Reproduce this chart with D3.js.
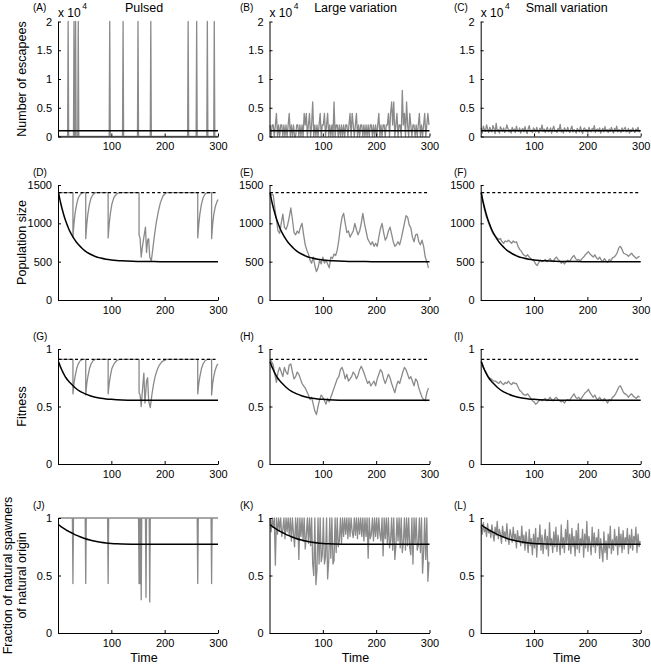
<!DOCTYPE html>
<html><head><meta charset="utf-8">
<script src="https://cdn.jsdelivr.net/npm/d3@7"></script>
<style>
body{margin:0;background:#fff}
text{font-family:"Liberation Sans",Arial,Helvetica,sans-serif;fill:#000}
</style>
</head><body>
<svg id="chart" width="651" height="666"></svg>
<script>
// ---------------- DATA ----------------
const columnTitles = ["Pulsed", "Large variation", "Small variation"];
const panelLetters = [["(A)","(B)","(C)"],["(D)","(E)","(F)"],["(G)","(H)","(I)"],["(J)","(K)","(L)"]];
const rowLabels = [["Number of escapees"],["Population size"],["Fitness"],["Fraction of natural spawners","of natural origin"]];
const xTicks = [100, 200, 300];
const escYTicks = [0, 5, 10, 15, 20];          // thousands of escapees
const escYTickLabels = ["0", "0.5", "1", "1.5", "2"]; // x 10^4
const popYTicks = [0, 500, 1000, 1500];
const fitYTicks = [0, 0.5, 1];
const fracYTicks = [0, 0.5, 1];

// Row 1: escapees (thousands)
const escapeeMean = 1;
const pulseTimes = [19, 30, 33, 38, 97, 122, 150, 174, 244, 260, 280, 293];
const pulseSize = 20;
const escLarge = [
 2,0,2,2,0,2,4,0,2,0, 2,2,0,2,0,2,0,2,4,0, 2,0,2,0,0,2,2,0,2,0,
 2,0,4,2,4,0,2,4,0,2, 6,0,2,0,2,0,2,4,0,2, 2,4,0,2,4,0,2,0,2,0,
 6,0,2,2,0,2,0,2,0,2, 0,2,2,0,2,4,0,4,2,0, 2,4,0,2,0,2,2,0,2,0,
 2,0,2,0,2,2,0,2,0,2, 0,2,4,0,2,0,2,2,0,2, 2,4,0,4,6,2,6,0,2,4,
 0,2,2,0,8,2,4,0,6,2, 0,4,2,0,2,2,0,2,0,2, 4,0,2,0,2,4,0,2,4,2];
const escSmall = [
 1.5,0.6,1.8,1.2,0.9,2.0,1.3,0.7,1.6,1.1, 0.8,1.9,1.4,0.5,2.3,1.0,1.2,0.6,1.7,1.3,
 0.9,1.5,0.7,1.1,2.0,1.4,0.8,1.2,0.6,1.6, 1.0,1.3,0.7,1.8,1.1,0.9,1.5,0.6,1.2,1.4,
 0.8,1.7,1.0,0.5,1.3,1.9,0.9,1.1,0.7,1.5, 1.2,0.8,1.6,1.0,0.6,1.4,1.1,2.0,0.9,1.3,
 0.7,1.2,1.6,0.8,1.0,1.5,0.6,1.3,1.8,0.9, 1.1,0.7,1.4,1.0,2.1,0.8,1.2,0.6,1.5,1.1,
 0.9,1.6,1.0,0.7,1.3,1.8,0.8,1.2,1.0,0.6, 1.4,1.1,0.8,1.7,1.0,0.5,1.3,1.5,0.9,1.2,
 0.7,1.6,1.1,0.8,1.4,1.0,1.9,0.7,1.2,1.3, 0.9,1.5,0.6,1.1,1.4,0.8,1.7,1.0,1.2,0.7,
 1.3,0.9,1.6,1.1,0.6,1.4,1.0,1.8,0.8,1.2, 1.1,0.7,1.5,0.9,1.3,1.6,0.8,1.0,1.4,0.6,
 1.2,0.9,1.5,1.1,0.7,1.3,1.0,1.6,0.8,1.1];

// Model (deterministic) curves
const modelTime = [1,3,5,8,10,13,15,18,20,25,30,35,40,45,50,60,70,80,90,100,110,120,140,160,180,200,250,300];
const modelPop  = [1400,1330,1265,1180,1130,1060,1020,965,930,860,800,750,710,675,645,600,568,548,533,523,516,511,505,502,501,500,500,500];
const modelFit  = [0.89,0.865,0.84,0.81,0.79,0.765,0.75,0.73,0.72,0.695,0.672,0.652,0.636,0.623,0.612,0.594,0.581,0.572,0.566,0.562,0.559,0.557,0.555,0.555,0.555,0.555,0.555,0.555];
const modelFrac = [0.94,0.935,0.928,0.918,0.912,0.903,0.897,0.889,0.884,0.872,0.86,0.849,0.839,0.83,0.822,0.808,0.797,0.789,0.783,0.779,0.776,0.774,0.772,0.771,0.771,0.771,0.771,0.771];
const popNoEscapes = 1400;
const fitNoEscapes = 0.91;

// Pulsed scenario: population and fitness (time, value)
const popPulsedTime = [1,28,28,30,32,35,38,42,46,52,52,54,56,59,62,66,70,94,94,96,98,101,105,110,115,
  152,152,154,156,158,161,164,166,168,170,172,175,178,181,184,188,192,197,203,
  262,262,264,266,269,272,276,280,288,288,290,292,295,298,300];
const popPulsed = [1400,1400,820,1000,1130,1250,1330,1380,1400,1400,800,990,1120,1250,1330,1380,1400,1400,810,990,1120,1250,1340,1385,1400,
  1400,850,800,560,680,820,950,620,780,800,560,510,680,850,1000,1150,1270,1360,1400,
  1400,810,990,1120,1250,1330,1385,1400,1400,800,990,1110,1220,1280,1310];
const fitPulsedTime = [1,28,28,30,32,35,38,42,46,52,52,54,56,59,62,66,70,94,94,96,98,101,105,110,115,
  152,152,154,156,159,161,163,166,168,170,173,176,179,182,186,190,195,203,
  262,262,264,266,269,272,276,280,288,288,290,292,295,298,300];
const fitPulsed = [0.91,0.91,0.61,0.70,0.76,0.83,0.87,0.90,0.91,0.91,0.60,0.70,0.76,0.83,0.87,0.90,0.91,0.91,0.61,0.70,0.76,0.83,0.87,0.90,0.91,
  0.91,0.62,0.60,0.50,0.68,0.79,0.53,0.72,0.75,0.55,0.49,0.60,0.69,0.76,0.82,0.86,0.89,0.91,
  0.91,0.61,0.70,0.76,0.83,0.87,0.90,0.91,0.91,0.60,0.70,0.76,0.82,0.86,0.87];
const fracPulseTimes = [28, 52, 94, 152, 154, 156, 165, 172, 262, 288];
const fracPulseLows  = [0.43,0.43,0.43,0.43,0.43,0.29,0.31,0.27,0.43,0.43];

// Variable scenarios, every 3rd year from year 1
const popLarge = [1350,1380,1370,1200,1050,900,870,1000,1120,950, 920,980,1080,1200,1050,880,850,900,870,950,
 1000,850,720,650,600,520,480,560,450,370, 420,520,470,560,480,520,470,420,560,540,
 600,580,650,780,950,1080,1130,1000,880,900, 820,860,900,1000,920,850,900,1000,1130,1000,
 900,800,760,720,760,700,740,700,820,930, 1000,880,780,820,900,950,860,760,700,720,
 760,720,800,900,1000,1100,1080,980,940,820, 760,850,860,760,720,780,700,560,500,420];
const popSmall = [1400,1290,1180,1100,1040,980,930,880,850,830, 810,790,800,760,740,770,760,780,760,740,
 770,750,760,700,660,640,600,580,570,590, 560,540,520,510,470,450,490,520,500,510,
 530,500,520,540,510,500,540,560,530,510, 480,500,470,500,520,500,530,560,580,540,
 520,530,510,540,560,590,610,630,600,580, 560,590,550,530,560,520,500,540,510,490,
 530,510,550,560,580,620,680,700,660,610, 600,590,570,590,610,580,560,540,560,570];
const fitLarge = [0.91,0.89,0.86,0.78,0.71,0.80,0.84,0.80,0.76,0.84, 0.80,0.78,0.86,0.87,0.80,0.74,0.76,0.80,0.78,0.74,
 0.70,0.68,0.66,0.63,0.60,0.56,0.58,0.52,0.46,0.43, 0.50,0.56,0.60,0.58,0.55,0.52,0.57,0.54,0.58,0.62,
 0.66,0.70,0.74,0.76,0.82,0.84,0.80,0.74,0.78,0.72, 0.74,0.76,0.80,0.78,0.74,0.77,0.82,0.85,0.82,0.78,
 0.74,0.70,0.72,0.68,0.70,0.72,0.68,0.74,0.78,0.82, 0.80,0.74,0.70,0.74,0.78,0.75,0.70,0.66,0.62,0.68,
 0.72,0.70,0.75,0.80,0.84,0.82,0.78,0.74,0.76,0.72, 0.68,0.74,0.72,0.66,0.62,0.58,0.56,0.55,0.62,0.66];
const fitSmall = [0.90,0.86,0.82,0.80,0.77,0.75,0.74,0.73,0.72,0.72, 0.71,0.70,0.72,0.70,0.69,0.71,0.70,0.72,0.70,0.69,
 0.71,0.70,0.70,0.67,0.64,0.63,0.61,0.60,0.60,0.61, 0.59,0.57,0.55,0.54,0.52,0.53,0.55,0.56,0.55,0.56,
 0.57,0.55,0.56,0.58,0.56,0.55,0.57,0.58,0.56,0.55, 0.54,0.55,0.53,0.55,0.56,0.55,0.57,0.59,0.61,0.58,
 0.57,0.58,0.56,0.58,0.60,0.62,0.63,0.65,0.62,0.60, 0.58,0.60,0.57,0.56,0.58,0.56,0.55,0.57,0.55,0.53,
 0.56,0.55,0.58,0.59,0.61,0.64,0.67,0.68,0.65,0.62, 0.61,0.60,0.58,0.60,0.61,0.59,0.58,0.57,0.59,0.58];

// Fraction natural origin, every 2nd year from year 1
const fracLarge = [
 1,0.88,1,0.92,1,0.59,1,0.86,1,0.9, 1,0.84,0.9,1,0.82,1,0.88,1,0.85,1, 0.8,1,0.86,0.75,1,0.82,1,0.64,1,0.84,
 1,0.8,1,0.73,0.85,1,0.78,1,0.76,1, 0.6,0.5,1,0.42,0.55,1,0.6,1,0.62,0.68, 1,0.6,0.66,1,0.47,0.62,1,0.65,1,0.6,
 0.63,1,0.7,1,0.75,0.8,1,0.78,1,0.84, 1,0.86,1,0.82,1,0.84,1,0.88,0.83,1, 0.85,1,0.82,1,0.86,1,0.84,1,0.8,1,
 0.84,1,0.65,1,0.82,0.86,1,0.8,1,0.84, 1,0.82,1,0.86,0.8,1,0.67,1,0.82,1, 0.78,1,0.74,0.8,1,0.72,1,0.64,0.76,1,
 0.8,1,0.74,1,0.7,0.78,1,0.72,1,0.76, 1,0.74,0.68,1,0.6,1,0.78,1,0.72,0.76, 1,0.7,1,0.52,0.7,1,0.64,1,0.45,0.62];
const fracSmall = [
 0.93,0.86,0.96,0.88,0.91,0.84,0.95,0.87,0.9,0.83, 0.94,0.86,0.8,0.92,0.85,0.97,0.82,0.9,0.86,0.78,
 0.93,0.84,0.88,0.8,0.95,0.83,0.77,0.9,0.85,0.79, 0.92,0.81,0.86,0.74,0.89,0.8,0.84,0.76,0.93,0.78,
 0.85,0.72,0.88,0.79,0.7,0.9,0.76,0.82,0.68,0.86, 0.74,0.91,0.66,0.83,0.77,0.94,0.72,0.85,0.69,0.8,
 0.9,0.73,0.84,0.67,0.96,0.76,0.82,0.7,0.88,0.75, 0.92,0.71,0.85,0.78,0.68,0.94,0.74,0.83,0.7,0.9,
 0.77,0.98,0.72,0.86,0.69,0.91,0.75,0.84,0.67,0.89, 0.73,0.95,0.7,0.82,0.76,0.9,0.66,0.86,0.74,0.97,
 0.71,0.84,0.78,0.68,0.92,0.75,0.87,0.7,0.83,0.76, 0.9,0.65,0.82,0.72,0.62,0.88,0.7,0.8,0.64,0.86,
 0.74,0.93,0.69,0.81,0.72,0.9,0.76,0.84,0.68,0.92, 0.75,0.86,0.7,0.89,0.73,0.83,0.77,0.91,0.69,0.85,
 0.74,0.9,0.72,0.84,0.78,0.92,0.7,0.86,0.75,0.8];

// ---------------- LAYOUT ----------------
const svg = d3.select("#chart");
const colLeft = [58, 269.5, 480.7], plotW = 160;
const rowTop = [21.5, 185, 349, 518], plotH = 115;
const GRAY = "#8a8a8a";
const FONT_TICK = 11, FONT_LABEL = 12.5;

const years = d3.range(1, 301);
const every2 = d3.range(1, 300, 2);
const every3 = d3.range(1, 300, 3);
const zip = (ts, vs) => ts.map((t, i) => [t, vs[i]]);

const pulsedEsc = years.map(t => [t, pulseTimes.includes(t) ? pulseSize : 0]);
const pulsedFrac = years.map(t => {
  const k = fracPulseTimes.indexOf(t);
  return [t, k >= 0 ? fracPulseLows[k] : 1];
});

const grayData = [
  [pulsedEsc, zip(every2, escLarge), zip(every2, escSmall)],
  [zip(popPulsedTime, popPulsed), zip(every3, popLarge), zip(every3, popSmall)],
  [zip(fitPulsedTime, fitPulsed), zip(every3, fitLarge), zip(every3, fitSmall)],
  [pulsedFrac, zip(every2, fracLarge), zip(every2, fracSmall)]
];
const blackData = [
  [[1, escapeeMean], [300, escapeeMean]],
  zip(modelTime, modelPop),
  zip(modelTime, modelFit),
  zip(modelTime, modelFrac)
];
const dashedLevel = [null, popNoEscapes, fitNoEscapes, null];
const yDomains = [[0, 20], [0, 1500], [0, 1], [0, 1]];
const yTickSets = [escYTicks, popYTicks, fitYTicks, fracYTicks];
const yFormats = [
  d => escYTickLabels[escYTicks.indexOf(d)],
  d => String(d),
  d => String(d),
  d => String(d)
];

for (let r = 0; r < 4; r++) {
  for (let c = 0; c < 3; c++) {
    const x = d3.scaleLinear().domain([0, 300]).range([colLeft[c], colLeft[c] + plotW]);
    const y = d3.scaleLinear().domain(yDomains[r]).range([rowTop[r] + plotH, rowTop[r]]);
    const line = d3.line().x(d => x(d[0])).y(d => y(d[1]));
    const g = svg.append("g");

    g.append("path").datum(grayData[r][c])
      .attr("d", line).attr("fill", "none").attr("stroke", GRAY)
      .attr("stroke-width", 1.3).attr("stroke-linejoin", "round");

    if (dashedLevel[r] !== null) {
      g.append("path").datum([[1, dashedLevel[r]], [300, dashedLevel[r]]])
        .attr("d", line).attr("fill", "none").attr("stroke", "#000")
        .attr("stroke-width", 1.2).attr("stroke-dasharray", "3,2.5");
    }
    g.append("path").datum(blackData[r])
      .attr("d", line.curve(d3.curveMonotoneX)).attr("fill", "none").attr("stroke", "#000")
      .attr("stroke-width", 1.5);

    const xAxis = g.append("g").attr("transform", `translate(0,${rowTop[r] + plotH})`)
      .call(d3.axisBottom(x).tickValues(xTicks).tickSizeInner(-3).tickSizeOuter(0).tickPadding(6));
    const yAxis = g.append("g").attr("transform", `translate(${colLeft[c]},0)`)
      .call(d3.axisLeft(y).tickValues(yTickSets[r]).tickFormat(yFormats[r]).tickSizeInner(-3).tickSizeOuter(0).tickPadding(6));
    [xAxis, yAxis].forEach(a => {
      a.selectAll("text").attr("font-size", FONT_TICK).style("font-family", '"Liberation Sans",Arial,sans-serif');
      a.select(".domain").attr("stroke", "#000").attr("stroke-width", 1);
      a.selectAll(".tick line").attr("stroke", "#000");
    });

    // panel letter
    const letterX = [33, 240, 454][c];
    const letterY = r === 0 ? 10.5 : rowTop[r] - 9;
    g.append("text").attr("x", letterX).attr("y", letterY).attr("font-size", 10)
      .text(panelLetters[r][c]);
  }
}

// column titles, x10^4 multipliers and Time labels
for (let c = 0; c < 3; c++) {
  const cx = colLeft[c] + plotW / 2 + 6;
  svg.append("text").attr("x", cx).attr("y", 11.5).attr("text-anchor", "middle")
    .attr("font-size", FONT_LABEL).text(columnTitles[c]);
  const m = svg.append("text").attr("x", colLeft[c]).attr("y", 16.5).attr("font-size", 12);
  m.append("tspan").text("x 10");
  m.append("tspan").attr("font-size", 8.5).attr("dy", -8).attr("dx", 1.5).text("4");
  svg.append("text").attr("x", cx).attr("y", 662).attr("text-anchor", "middle")
    .attr("font-size", FONT_LABEL).text("Time");
}

// row y-labels
const labelX = [[22], [22], [22], [8, 21.5]];
for (let r = 0; r < 4; r++) {
  const cy = rowTop[r] + plotH / 2;
  rowLabels[r].forEach((txt, i) => {
    svg.append("text")
      .attr("transform", `translate(${labelX[r][i] + 4},${cy}) rotate(-90)`)
      .attr("text-anchor", "middle").attr("font-size", FONT_LABEL).text(txt);
  });
}
</script>
</body></html>
